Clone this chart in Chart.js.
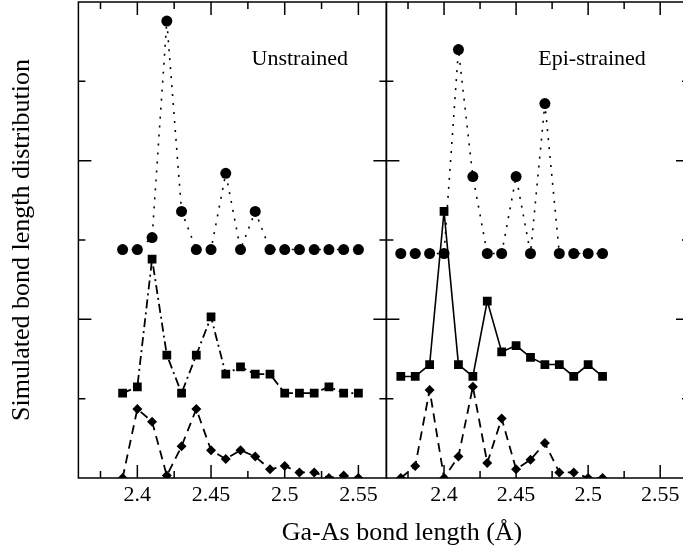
<!DOCTYPE html>
<html>
<head>
<meta charset="utf-8">
<title>Ga-As bond length distribution</title>
<script src="https://cdn.jsdelivr.net/npm/chart.js@4.4.0/dist/chart.umd.min.js"></script>
<style>
    html, body { margin: 0; padding: 0; background: #fff; overflow: hidden; }
    #wrap { position: relative; width: 683px; height: 554px; overflow: hidden; }
</style>
</head>
<body>
<div id="wrap"><canvas id="bondChart" width="690" height="554"></canvas></div>
<script>
// bond length bins (Å)
const unstrainedBins = [2.39, 2.40, 2.41, 2.42, 2.43, 2.44, 2.45, 2.46, 2.47, 2.48, 2.49, 2.50, 2.51, 2.52, 2.53, 2.54, 2.55];
const epiBins = [2.37, 2.38, 2.39, 2.40, 2.41, 2.42, 2.43, 2.44, 2.45, 2.46, 2.47, 2.48, 2.49, 2.50, 2.51];

// distributions, each curve shifted up so they don't overlap
const unstrainedCircles = [2.88, 2.88, 3.03, 5.76, 3.36, 2.88, 2.88, 3.84, 2.88, 3.36, 2.88, 2.88, 2.88, 2.88, 2.88, 2.88, 2.88];
const unstrainedSquares = [1.07, 1.15, 2.76, 1.55, 1.07, 1.55, 2.03, 1.31, 1.40, 1.31, 1.31, 1.07, 1.07, 1.07, 1.15, 1.07, 1.07];
const unstrainedDiamonds = [0, 0.87, 0.71, 0.03, 0.40, 0.87, 0.35, 0.24, 0.35, 0.27, 0.11, 0.15, 0.07, 0.07, 0, 0.03, 0];

const epiCircles = [2.83, 2.83, 2.83, 2.83, 5.40, 3.80, 2.83, 2.83, 3.80, 2.83, 4.72, 2.83, 2.83, 2.83, 2.83];
const epiSquares = [1.28, 1.28, 1.43, 3.36, 1.43, 1.28, 2.23, 1.59, 1.67, 1.52, 1.43, 1.43, 1.28, 1.43, 1.28];
const epiDiamonds = [0, 0.15, 1.11, 0, 0.27, 1.15, 0.19, 0.75, 0.11, 0.23, 0.44, 0.07, 0.07, 0, 0];

const xTickLabels = [2.4, 2.45, 2.5, 2.55];
const panelNames = ["Unstrained", "Epi-strained"];
const xTitle = "Ga-As bond length (Å)";
const yTitle = "Simulated bond length distribution";

const FONT = "'Liberation Serif', 'Times New Roman', serif";

function series(bins, values, xAxisID, pointStyle, radius, dash, width) {
    return {
        data: bins.map((x, i) => ({ x: x, y: values[i] })),
        xAxisID: xAxisID,
        yAxisID: "y",
        borderColor: "#000",
        backgroundColor: "#000",
        borderWidth: width,
        borderDash: dash,
        pointStyle: pointStyle,
        pointRadius: radius,
        pointBorderWidth: 0,
        tension: 0,
        fill: false,
    };
}

function xScale(min, max, weight) {
    return {
        type: "linear",
        position: "bottom",
        stack: "panels",
        stackWeight: weight,
        min: min,
        max: max,
        grid: { display: false, drawTicks: false },
        border: { display: false },
        afterBuildTicks: (scale) => {
            scale.ticks = xTickLabels.map((v) => ({ value: v }));
        },
        afterFit: (scale) => {
            // labels never reach the panel edges, so no extra side padding
            scale.height = 76;
            scale.paddingLeft = 0;
            scale.paddingRight = 0;
        },
        ticks: {
            color: "#000",
            padding: 4,
            maxRotation: 0,
            autoSkip: false,
            font: { family: FONT, size: 22 },
            callback: (v) => String(v),
        },
    };
}

// frames, inward tick marks, panel names and the shared x title
const panelFrames = {
    id: "panelFrames",
    afterDatasetsDraw(chart) {
        const { ctx, chartArea, scales } = chart;
        const top = chartArea.top;
        const bottom = chartArea.bottom;
        const y = scales.y;

        ctx.save();
        ctx.strokeStyle = "#000";
        ctx.lineWidth = 1.5;
        ["xL", "xR"].forEach((id) => {
            const s = scales[id];
            ctx.strokeRect(s.left, top, s.right - s.left, bottom - top);
            ctx.beginPath();
            // every 0.025 Å, longer on the 0.05 marks
            for (let k = Math.ceil(s.min / 0.025); k * 0.025 <= s.max + 1e-9; k++) {
                const px = s.getPixelForValue(k * 0.025);
                const len = k % 2 === 0 ? 13 : 7;
                ctx.moveTo(px, bottom);
                ctx.lineTo(px, bottom - len);
                ctx.moveTo(px, top);
                ctx.lineTo(px, top + len);
            }
            for (let v = 1; v < y.max; v++) {
                const py = y.getPixelForValue(v);
                const len = v % 2 === 0 ? 13 : 7;
                ctx.moveTo(s.left, py);
                ctx.lineTo(s.left + len, py);
                ctx.moveTo(s.right, py);
                ctx.lineTo(s.right - len, py);
            }
            ctx.stroke();
        });

        ctx.fillStyle = "#000";
        ctx.textBaseline = "alphabetic";
        ctx.textAlign = "right";
        ctx.font = "22px " + FONT;
        ctx.fillText(panelNames[0], scales.xL.getPixelForValue(2.543), y.getPixelForValue(5.2));
        ctx.fillText(panelNames[1], scales.xR.getPixelForValue(2.54), y.getPixelForValue(5.2));

        ctx.textAlign = "center";
        ctx.font = "26px " + FONT;
        ctx.fillText(xTitle, 402, 540);
        ctx.restore();
    },
};

const ctx = document.getElementById("bondChart").getContext("2d");
new Chart(ctx, {
    type: "line",
    data: {
        datasets: [
            series(unstrainedBins, unstrainedCircles, "xL", "circle", 5.5, [2, 7], 1.6),
            series(unstrainedBins, unstrainedSquares, "xL", "rect", 6.2, [9, 4, 2, 4], 1.8),
            series(unstrainedBins, unstrainedDiamonds, "xL", "rectRot", 5, [9, 6], 1.8),
            series(epiBins, epiCircles, "xR", "circle", 5.5, [2, 7], 1.6),
            series(epiBins, epiSquares, "xR", "rect", 6.2, [], 1.6),
            series(epiBins, epiDiamonds, "xR", "rectRot", 5, [9, 6], 1.8),
        ],
    },
    options: {
        responsive: false,
        animation: false,
        events: [],
        layout: { autoPadding: false, padding: { top: 2, right: 1, bottom: 0, left: 0 } },
        plugins: {
            legend: { display: false },
            tooltip: { enabled: false },
        },
        scales: {
            xL: xScale(2.36, 2.569, 308),
            xR: xScale(2.36, 2.57, 302.6),
            y: {
                position: "left",
                min: 0,
                max: 6,
                grid: { display: false, drawTicks: false },
                border: { display: false },
                ticks: { display: false },
                afterFit: (scale) => {
                    scale.width = 78.4;
                },
                title: {
                    display: true,
                    text: yTitle,
                    color: "#000",
                    padding: { top: 7, bottom: 0 },
                    font: { family: FONT, size: 26 },
                },
            },
        },
    },
    plugins: [panelFrames],
});
</script>
</body>
</html>
